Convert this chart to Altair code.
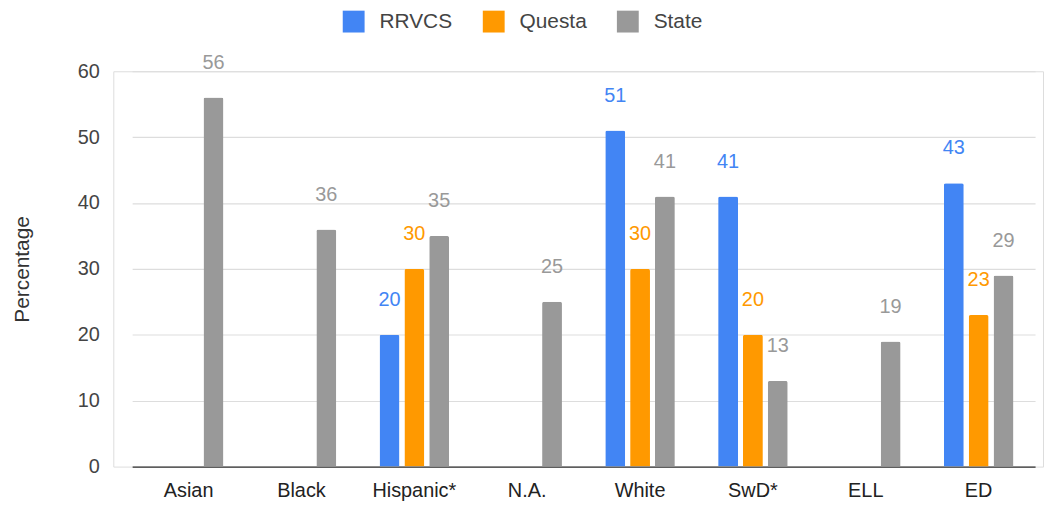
import altair as alt
import pandas as pd

categories = ["Asian", "Black", "Hispanic*", "N.A.", "White", "SwD*", "ELL", "ED"]
series_names = ["RRVCS", "Questa", "State"]
rrvcs = [None, None, 20, None, 51, 41, None, 43]
questa = [None, None, 30, None, 30, 20, None, 23]
state = [56, 36, 35, 25, 41, 13, 19, 29]
colors = ["#4285F4", "#FF9900", "#999999"]
y_ticks = [0, 10, 20, 30, 40, 50, 60]

rows = []
for name, vals in zip(series_names, [rrvcs, questa, state]):
    for c, v in zip(categories, vals):
        if v is not None:
            rows.append({"Category": c, "Series": name, "Value": v})
df = pd.DataFrame(rows)

FONT = "Liberation Sans"

x_enc = alt.X("Category:N", sort=categories, title=None,
              scale=alt.Scale(range=[19, 928], paddingInner=0, paddingOuter=0),
              axis=alt.Axis(labelAngle=0, labelFontSize=20, labelColor="#222222",
                            labelFont=FONT, labelPadding=14, ticks=False,
                            domain=True, domainColor="#333333", domainWidth=1.2,
                            grid=False))
xoff_enc = alt.XOffset("Series:N", sort=series_names,
                       scale=alt.Scale(paddingInner=0.2, paddingOuter=0.872))
y_scale = alt.Scale(domain=[0, 60], nice=False)
color_enc = alt.Color("Series:N", sort=series_names,
                      scale=alt.Scale(domain=series_names, range=colors),
                      legend=alt.Legend(title=None, orient="none", direction="horizontal",
                                        legendX=231, legendY=-61, padding=0,
                                        symbolType="square", symbolSize=484,
                                        symbolStrokeWidth=0, symbolOpacity=1,
                                        labelFontSize=21, labelFont=FONT,
                                        labelColor="#444444", labelOffset=15,
                                        columnPadding=30))

bars = alt.Chart(df).mark_bar(cornerRadiusTopLeft=2, cornerRadiusTopRight=2).encode(
    x=x_enc,
    xOffset=xoff_enc,
    y=alt.Y("Value:Q", scale=y_scale, title="Percentage",
            axis=alt.Axis(values=y_ticks, labelFontSize=20, labelColor="#444444",
                          labelFont=FONT, labelPadding=14, ticks=False, domain=False,
                          gridColor="#dddddd", gridWidth=1.2,
                          titleFontSize=21, titleFont=FONT, titleColor="#333333",
                          titleFontWeight="normal", titlePadding=45)),
    color=color_enc,
)

labels = alt.Chart(df).mark_text(dy=-35, baseline="middle", align="center",
                                 fontSize=20, font=FONT).encode(
    x=alt.X("Category:N", sort=categories),
    xOffset=alt.XOffset("Series:N", sort=series_names),
    y=alt.Y("Value:Q"),
    text=alt.Text("Value:Q"),
    color=alt.Color("Series:N", sort=series_names, legend=None),
)

chart = alt.layer(bars, labels).properties(
    width=936, height=398,
    autosize=alt.AutoSizeParams(type="none"),
    padding={"left": 106, "top": 62, "right": 2, "bottom": 38},
).configure_view(stroke=None).configure(background="white")

chart.save("out.html", embed_options={"renderer": "svg", "actions": False})
